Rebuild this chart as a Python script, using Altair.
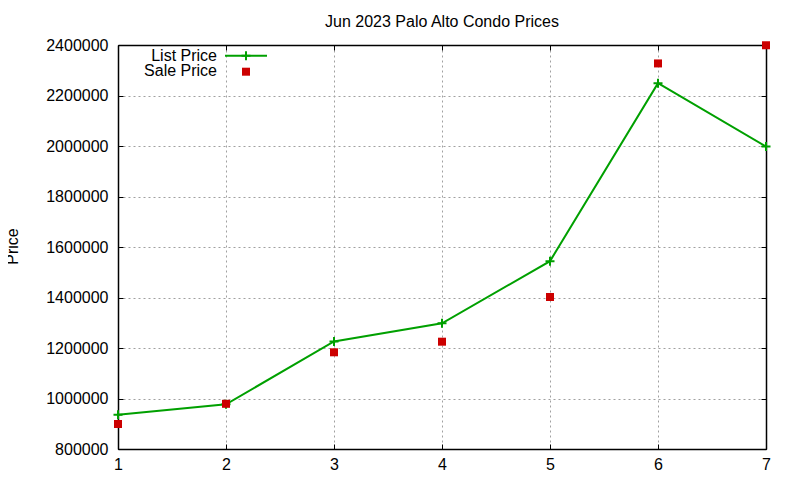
import altair as alt
import pandas as pd

FONT = "Liberation Sans"
GREEN = "#00a000"
RED = "#cc0000"

title = "Jun 2023 Palo Alto Condo Prices"
series = ["List Price", "Sale Price"]
x_vals = [1, 2, 3, 4, 5, 6, 7]
list_price = [936000, 977000, 1226000, 1298000, 1544000, 2249000, 1998000]
sale_price = [899000, 979000, 1183000, 1225000, 1402000, 2327000, 2399000]
x_ticks = [1, 2, 3, 4, 5, 6, 7]
y_ticks = [800000, 1000000, 1200000, 1400000, 1600000, 1800000, 2000000, 2200000, 2400000]

df = pd.DataFrame({"n": x_vals, "list": list_price, "sale": sale_price})

xs = alt.Scale(domain=[1, 7], nice=False, zero=False)
ys = alt.Scale(domain=[800000, 2400000], nice=False, zero=False)

grid_kw = dict(grid=True, gridColor="#a0a0a0", gridDash=[2, 3], gridWidth=1)
dom_kw = dict(domain=True, domainColor="black", domainWidth=1.5)

x_main = alt.Axis(orient="bottom", values=x_ticks, ticks=False,
                  labelPadding=7, labelFlush=False, labelFontSize=16, labelFont=FONT,
                  labelColor="black", title=None, format="d", **grid_kw, **dom_kw)
y_main = alt.Axis(orient="left", values=y_ticks, ticks=False,
                  labelPadding=10, labelFontSize=16, labelFont=FONT, labelColor="black",
                  format="d", title="Price", titleFont=FONT, titleFontSize=16,
                  titleFontWeight="normal", titleColor="black", titleAngle=-90,
                  titleBaseline="alphabetic", titleX=-101, titleY=201, titleAlign="center",
                  **grid_kw, **dom_kw)

def tick_axis(orient, values):
    return alt.Axis(orient=orient, values=values, offset=-5, tickSize=5, tickColor="black",
                    tickWidth=1, labels=False, domain=False, grid=False, title=None)

def frame_axis(orient):
    return alt.Axis(orient=orient, ticks=False, labels=False, grid=False, title=None, **dom_kw)

base = alt.Chart(df)

frame = base.mark_line(opacity=0).encode(
    x=alt.X("n:Q", scale=xs, axis=frame_axis("top")),
    y=alt.Y("list:Q", scale=ys, axis=frame_axis("right")),
)

line = base.mark_line(color=GREEN, strokeWidth=2).encode(
    x=alt.X("n:Q", scale=xs, axis=x_main),
    y=alt.Y("list:Q", scale=ys, axis=y_main),
)

cross_shape = "M-1,0H1M0,-1V1"
crosses = base.mark_point(shape=cross_shape, filled=False, strokeWidth=2, size=81,
                          color=GREEN, opacity=1).encode(
    x=alt.X("n:Q", scale=xs, axis=tick_axis("top", x_ticks)),
    y=alt.Y("list:Q", scale=ys, axis=tick_axis("right", y_ticks)),
)

squares = base.mark_square(color=RED, size=64, opacity=1).encode(
    x=alt.X("n:Q", scale=xs, axis=tick_axis("bottom", x_ticks)),
    y=alt.Y("sale:Q", scale=ys, axis=tick_axis("left", y_ticks)),
)

lab1 = alt.Chart(pd.DataFrame({"label": [series[0]]})).mark_text(
    align="right", baseline="alphabetic", fontSize=16, font=FONT, color="black"
).encode(text="label:N", x=alt.value(99), y=alt.value(15.7))
lab2 = alt.Chart(pd.DataFrame({"label": [series[1]]})).mark_text(
    align="right", baseline="alphabetic", fontSize=16, font=FONT, color="black"
).encode(text="label:N", x=alt.value(99), y=alt.value(30.7))
leg_line = alt.Chart(pd.DataFrame({"label": [series[0]]})).mark_rule(
    color=GREEN, strokeWidth=2
).encode(x=alt.value(107), x2=alt.value(149), y=alt.value(10.7))
leg_cross = alt.Chart(pd.DataFrame({"label": [series[0]]})).mark_point(
    shape=cross_shape, filled=False, strokeWidth=2, size=81, color=GREEN, opacity=1
).encode(x=alt.value(128), y=alt.value(10.7))
leg_sq = alt.Chart(pd.DataFrame({"label": [series[1]]})).mark_square(
    color=RED, size=64, opacity=1
).encode(x=alt.value(128), y=alt.value(26.7))

chart = alt.layer(line, frame, crosses, squares, lab1, lab2, leg_line, leg_cross, leg_sq).resolve_axis(
    x="independent", y="independent"
).properties(
    width=648, height=404,
    title=alt.TitleParams(title, font=FONT, fontSize=16, fontWeight="normal",
                          color="black", anchor="middle", baseline="alphabetic",
                          offset=0, dy=6),
    autosize=alt.AutoSizeParams(type="none"),
    padding={"left": 110, "top": 37, "right": 26, "bottom": 23},
).configure(background="white").configure_view(stroke="black", strokeWidth=1)

chart.save("out.html", embed_options={"renderer": "svg", "actions": False})
